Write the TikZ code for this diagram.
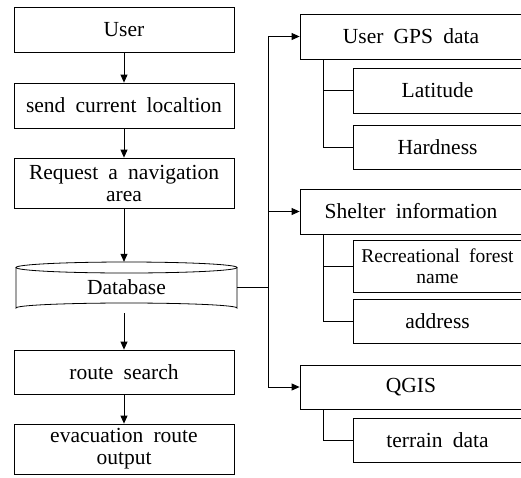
\documentclass[tikz,border=0pt]{standalone}
\usepackage{fontspec}
\setmainfont{Liberation Serif}[WordSpace=1.9]
\usetikzlibrary{arrows.meta}
\tikzset{
  box/.style={draw, line width=0.8pt, minimum height=45pt, inner sep=0pt, align=center,
    font=\fontsize{21.5}{22}\selectfont},
  lbox/.style={box, minimum width=220pt},
  rbox/.style={box, minimum width=222pt},
  sbox/.style={box, minimum width=169pt},
  conn/.style={line width=0.8pt},
  arr/.style={conn, -{Triangle[length=8pt,width=7pt]}},
}
\begin{document}
\begin{tikzpicture}[x=1pt,y=-1pt]
\useasboundingbox (0,0) rectangle (521,477);
\clip (0,0) rectangle (521,477);
% left column
\node[lbox] (user) at (124,29.5) {User};
\node[lbox] (send) at (124,105.5) {send current localtion};
\node[lbox, minimum height=50pt] (req) at (124,183) {Request a navigation\\area};
\node[minimum width=221pt, minimum height=51pt, inner sep=0pt, font=\fontsize{21.5}{22}\selectfont] (db) at (126.5,287.5) {Database};
\draw[conn] (126.5,267.5) ellipse [x radius=110.5, y radius=5.5];
\draw[conn] (16,267.5) -- (16,308) arc[start angle=180, end angle=360, x radius=110.5, y radius=5] -- (237,267.5);
\node[lbox, minimum height=44pt] (route) at (124,372) {route search};
\node[lbox, minimum height=50pt] (evac) at (124,449) {evacuation route\\output};
\draw[arr] (user) -- (send);
\draw[arr] (send) -- (req);
\draw[arr] (req.south) -- (req.south |- db.north);
\draw[arr] (db.south -| route.north) -- (route.north);
\draw[arr] (route) -- (evac);
% right column
\node[rbox] (gps) at (411,36.5) {User GPS data};
\node[sbox] (lat) at (437.5,90.5) {Latitude};
\node[sbox, minimum height=44pt] (hard) at (437.5,147) {Hardness};
\node[rbox] (shel) at (411,211.5) {Shelter information};
\node[sbox, minimum height=52pt, font=\fontsize{19.5}{21}\selectfont] (rec) at (437.5,266) {Recreational forest\\name};
\node[sbox, minimum height=44pt] (addr) at (437.5,321) {address};
\node[rbox, minimum height=44pt] (qgis) at (411,387) {QGIS};
\node[sbox, minimum height=44pt] (terr) at (437.5,440) {terrain data};
% trunk
\coordinate (tA) at (268,36.5);
\coordinate (tB) at (268,211.5);
\coordinate (tC) at (268,387);
\coordinate (tD) at (268,287);
\draw[conn] (db.east |- tD) -- (tD);
\draw[conn] (tA) -- (tC);
\draw[arr] (tA) -- (gps.west);
\draw[arr] (tB) -- (shel.west);
\draw[arr] (tC) -- (qgis.west);
% sub-trees
\draw[conn] (gps.south -| 323,0) |- (hard.west);
\draw[conn] (323,90.5) -- (lat.west);
\draw[conn] (shel.south -| 323,0) |- (addr.west);
\draw[conn] (323,266) -- (rec.west);
\draw[conn] (qgis.south -| 323,0) |- (terr.west);
\end{tikzpicture}
\end{document}
